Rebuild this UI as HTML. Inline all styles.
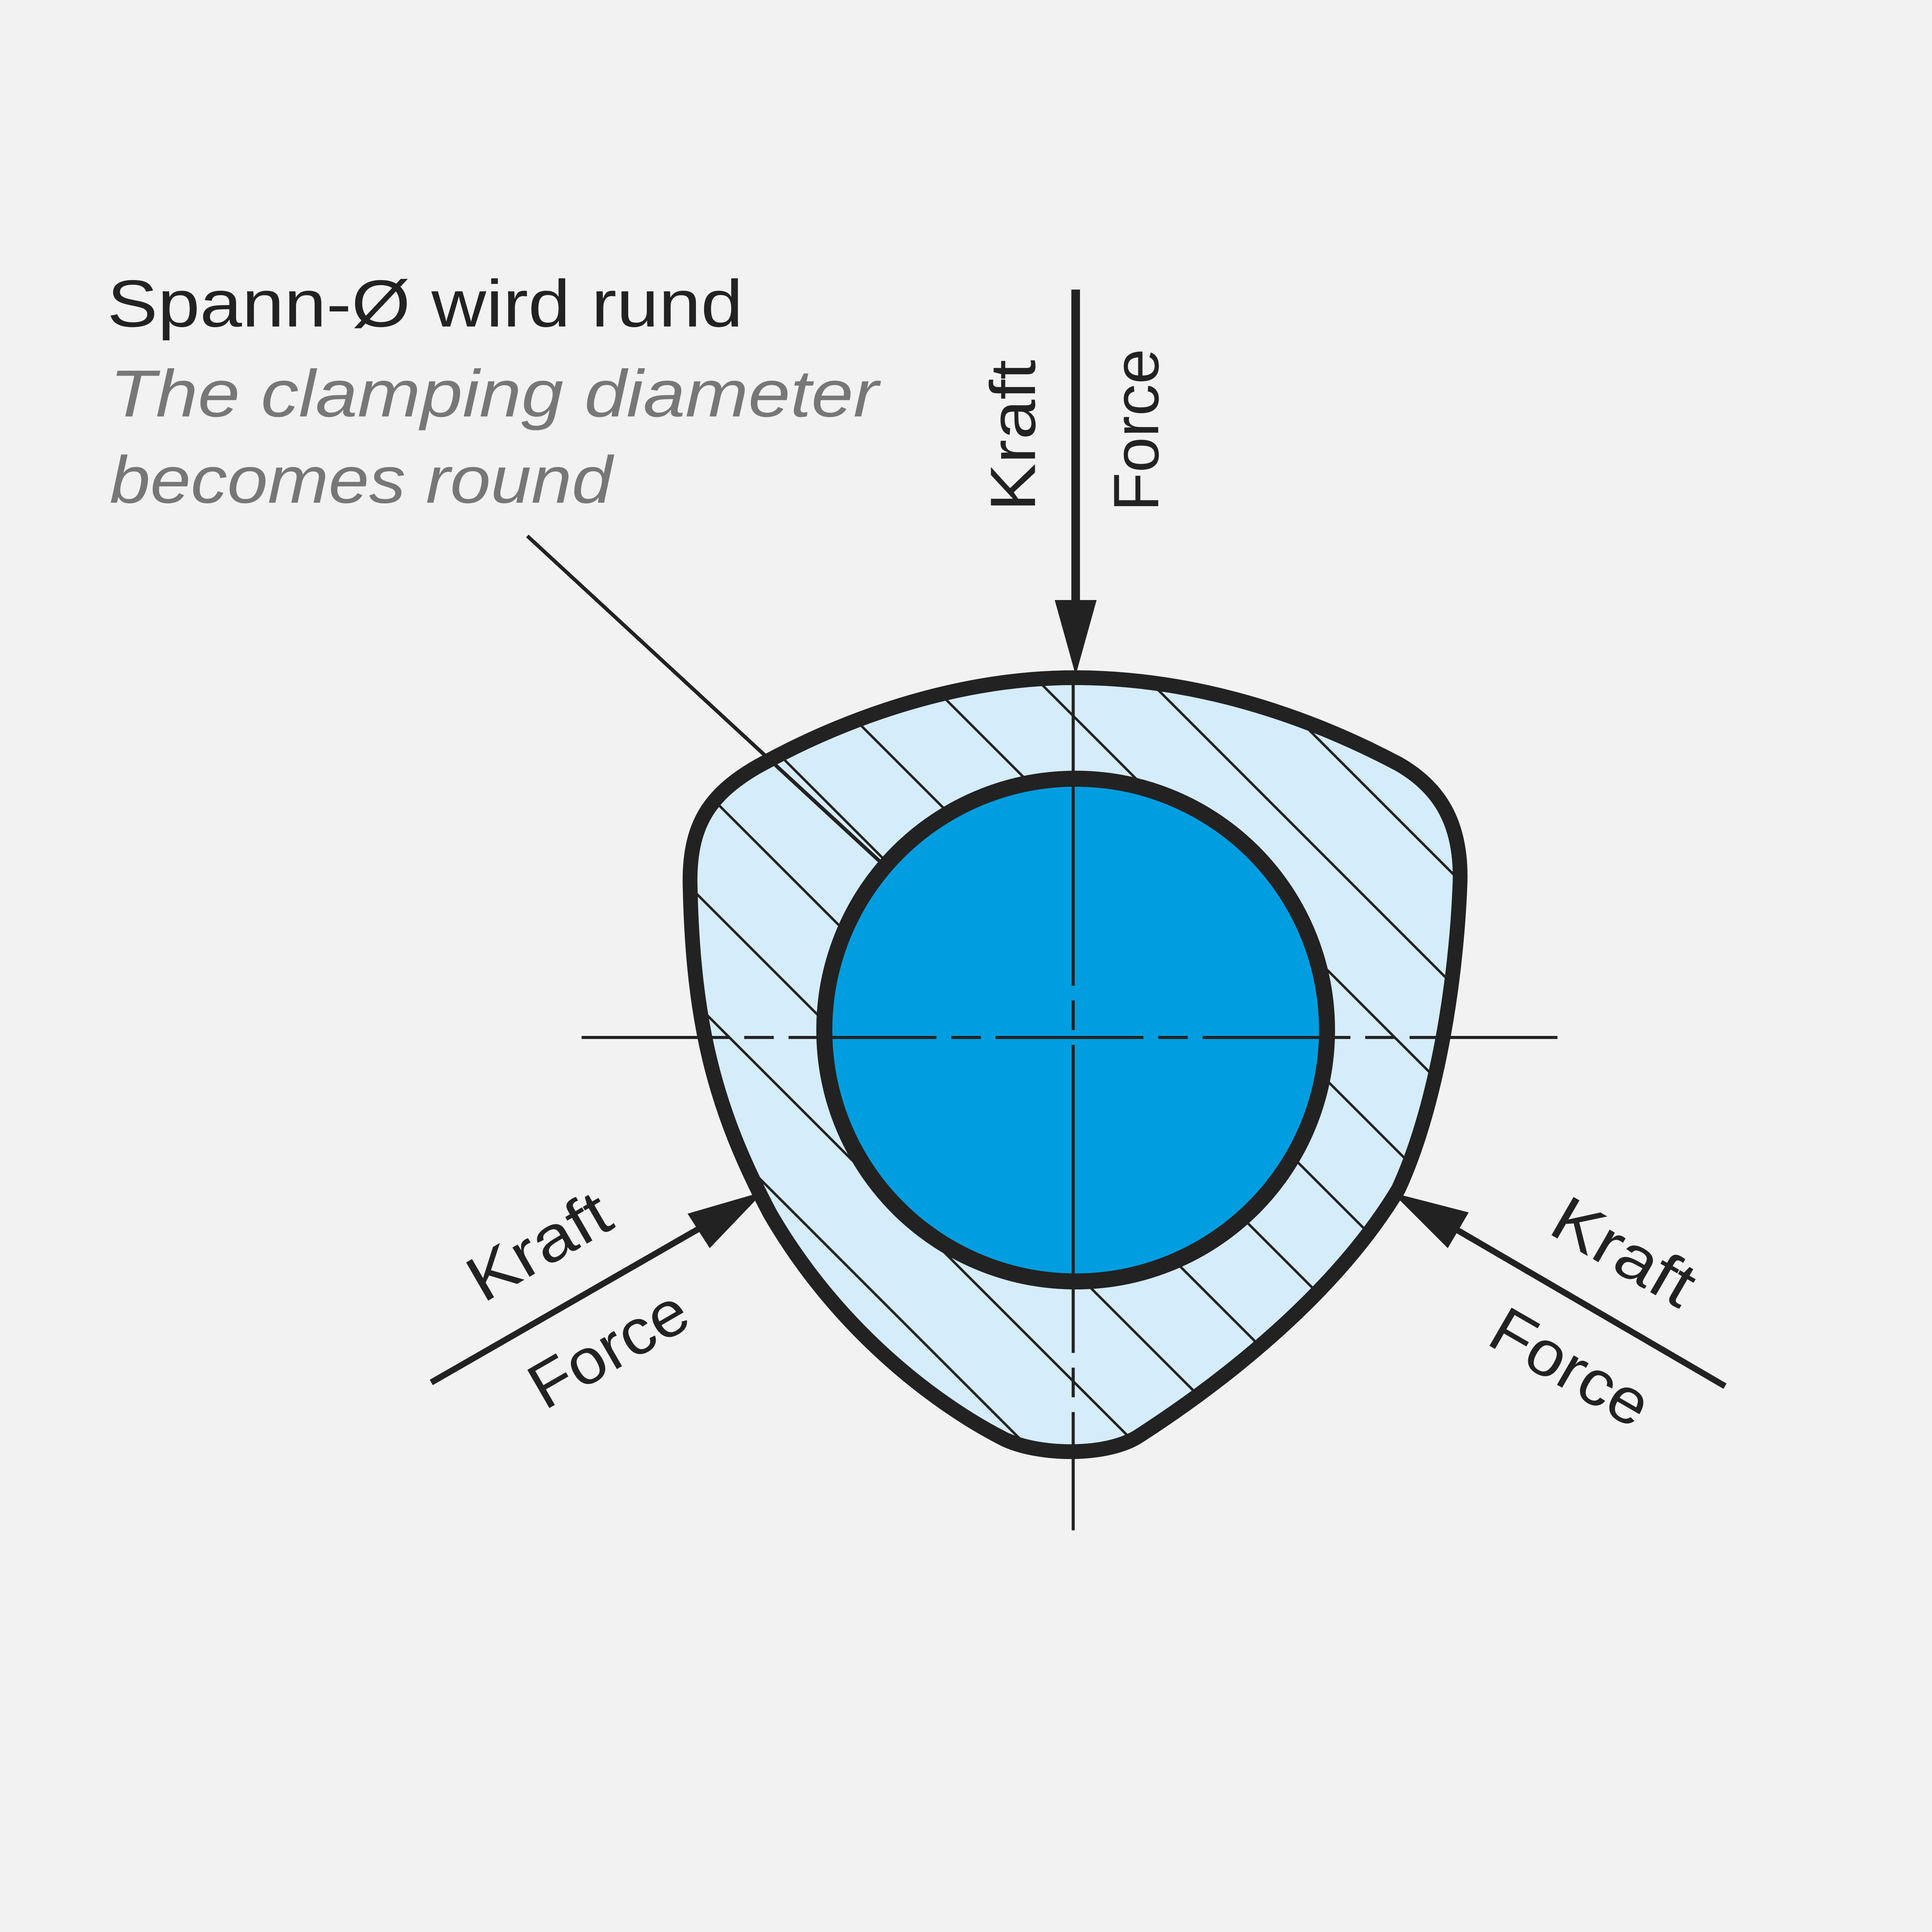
<!DOCTYPE html>
<html><head><meta charset="utf-8"><style>
html,body{margin:0;padding:0;background:#f2f2f2;width:100%;height:100%;overflow:hidden;}
svg{display:block;width:100vw;height:100vh;}
text{font-family:"Liberation Sans","DejaVu Sans",sans-serif;}
</style></head><body>
<svg viewBox="0 0 1568 1568" preserveAspectRatio="none" xmlns="http://www.w3.org/2000/svg">
<rect width="1568" height="1568" fill="#f2f2f2"/>
<defs>
<clipPath id="c">
<path d="M872,550 C790,550 700,575 615,622 C575,645 560,670 560,715 C562,830 580,900 625,985 C680,1080 760,1140 815,1168 C845,1182 900,1182 925,1165 C1010,1110 1090,1040 1135,965 C1165,900 1182,800 1185,715 C1186,670 1170,640 1135,620 C1050,575 960,550 872,550 Z"/>
</clipPath>
</defs>
<path d="M872,550 C790,550 700,575 615,622 C575,645 560,670 560,715 C562,830 580,900 625,985 C680,1080 760,1140 815,1168 C845,1182 900,1182 925,1165 C1010,1110 1090,1040 1135,965 C1165,900 1182,800 1185,715 C1186,670 1170,640 1135,620 C1050,575 960,550 872,550 Z" fill="#d5ecfa"/>
<g clip-path="url(#c)" stroke="#222" stroke-width="2">
<line x1="-80" y1="350" x2="820" y2="1250"/>
<line x1="10" y1="350" x2="910" y2="1250"/>
<line x1="100" y1="350" x2="1000" y2="1250"/>
<line x1="190" y1="350" x2="1090" y2="1250"/>
<line x1="280" y1="350" x2="1180" y2="1250"/>
<line x1="370" y1="350" x2="1270" y2="1250"/>
<line x1="460" y1="350" x2="1360" y2="1250"/>
<line x1="550" y1="350" x2="1450" y2="1250"/>
<line x1="640" y1="350" x2="1540" y2="1250"/>
<line x1="730" y1="350" x2="1630" y2="1250"/>
<line x1="820" y1="350" x2="1720" y2="1250"/>
</g>
<path d="M872,550 C790,550 700,575 615,622 C575,645 560,670 560,715 C562,830 580,900 625,985 C680,1080 760,1140 815,1168 C845,1182 900,1182 925,1165 C1010,1110 1090,1040 1135,965 C1165,900 1182,800 1185,715 C1186,670 1170,640 1135,620 C1050,575 960,550 872,550 Z" fill="none" stroke="#222" stroke-width="12"/>
<circle cx="873" cy="836" r="204" fill="#009ee0" stroke="#222" stroke-width="13"/>
<g stroke="#222" stroke-width="2.5">
<line x1="472" y1="842" x2="1265" y2="842" stroke-dasharray="120,12,24,12"/>
<line x1="871" y1="550" x2="871" y2="1242" stroke-dasharray="250,12,24,12"/>
</g>
<line x1="428" y1="435" x2="715" y2="700" stroke="#222" stroke-width="3"/>
<line x1="873" y1="235" x2="873" y2="492" stroke="#222" stroke-width="7"/>
<polygon points="856,487 890,487 873,548" fill="#222"/>
<line x1="350" y1="1122" x2="585" y2="987" stroke="#222" stroke-width="5"/>
<polygon points="620,967 558,985 576,1013" fill="#222"/>
<line x1="1400" y1="1125" x2="1165" y2="988" stroke="#222" stroke-width="5"/>
<polygon points="1130,968 1192,984 1175,1013" fill="#222"/>
<text x="87" y="265" font-size="54" fill="#222" textLength="516" lengthAdjust="spacingAndGlyphs">Spann-Ø wird rund</text>
<text x="89" y="338" font-size="54" fill="#777" font-style="italic" textLength="624" lengthAdjust="spacingAndGlyphs">The clamping diameter</text>
<text x="89" y="408" font-size="54" fill="#777" font-style="italic" textLength="408" lengthAdjust="spacingAndGlyphs">becomes round</text>
<text transform="translate(840,415) rotate(-90)" font-size="52" fill="#222" textLength="123" lengthAdjust="spacingAndGlyphs">Kraft</text>
<text transform="translate(940,415) rotate(-90)" font-size="52" fill="#222" textLength="132" lengthAdjust="spacingAndGlyphs">Force</text>
<text transform="translate(392,1058) rotate(-30)" font-size="52" fill="#222" textLength="125" lengthAdjust="spacingAndGlyphs">Kraft</text>
<text transform="translate(442,1145) rotate(-30)" font-size="52" fill="#222" textLength="140" lengthAdjust="spacingAndGlyphs">Force</text>
<text transform="translate(1255,1000) rotate(30)" font-size="52" fill="#222" textLength="125" lengthAdjust="spacingAndGlyphs">Kraft</text>
<text transform="translate(1205,1090) rotate(30)" font-size="52" fill="#222" textLength="140" lengthAdjust="spacingAndGlyphs">Force</text>
</svg>
</body></html>
